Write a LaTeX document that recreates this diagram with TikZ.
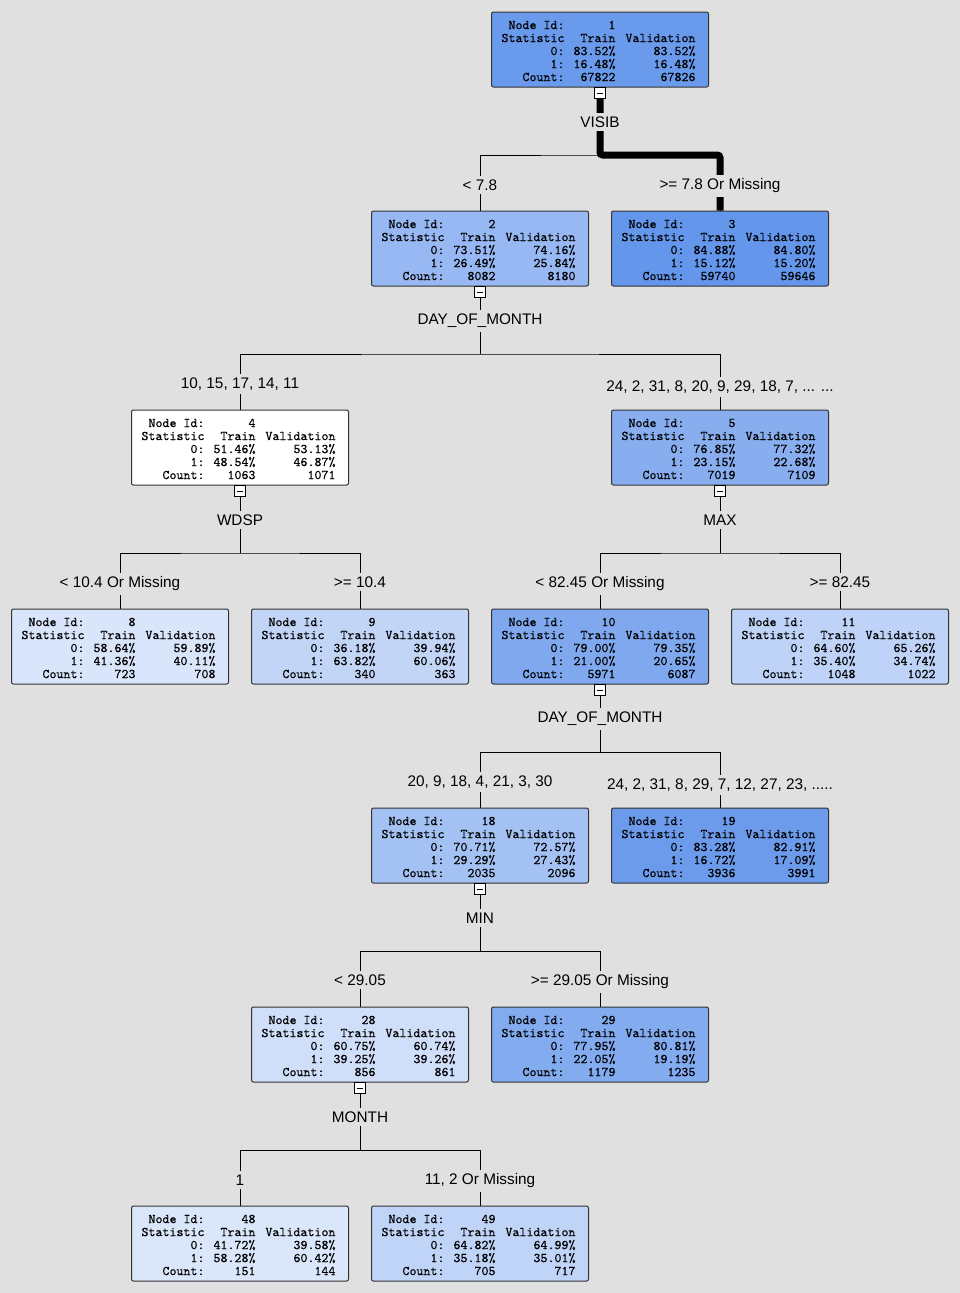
\documentclass[tikz,border=0pt]{standalone}
\usepackage{fontspec}
\setmainfont{Liberation Sans}
\newfontfamily\monof{Latin Modern Mono}[FakeBold=0.4]
\pgfdeclarelayer{back}
\pgfdeclarelayer{lines}
\pgfsetlayers{back,lines,main}
\definecolor{bg}{RGB}{224,224,224}
\definecolor{cA}{RGB}{106,154,236}
\definecolor{cB}{RGB}{151,184,242}
\definecolor{cC}{RGB}{100,150,235}
\definecolor{cD}{RGB}{255,255,255}
\definecolor{cE}{RGB}{136,174,240}
\definecolor{cH}{RGB}{217,229,250}
\definecolor{cI}{RGB}{194,213,247}
\definecolor{cJ}{RGB}{127,168,238}
\definecolor{cK}{RGB}{190,211,247}
\definecolor{cR}{RGB}{163,193,243}
\definecolor{cS}{RGB}{108,155,236}
\definecolor{cT}{RGB}{207,222,249}
\definecolor{cU}{RGB}{131,171,239}
\definecolor{cV}{RGB}{218,230,250}
\definecolor{cW}{RGB}{192,212,247}
\newcommand{\srow}[3]{\hbox{\makebox[54.75pt][r]{#1}\makebox[38.25pt][r]{#2}\makebox[60pt][r]{#3}\hspace*{9.75pt}}}
\newcommand{\nstat}[7]{\vbox{\baselineskip=9.75pt\lineskiplimit=-20pt
\kern2.25pt\srow{Node Id:}{#1}{}\srow{Statistic}{Train}{Validation}\srow{0:}{#2}{#3}\srow{1:}{#4}{#5}\srow{Count:}{#6}{#7}}}
\tikzset{
  box/.style={draw=black!80, line width=0.75pt, rounded corners=1.5pt, inner sep=0pt,
    minimum width=162.75pt, minimum height=56.25pt,
    font=\monof\fontsize{10pt}{9.75pt}\selectfont},
  lab/.style={fill=bg, inner xsep=1pt, inner ysep=3pt, yshift=-0.75pt, font=\fontsize{11.5pt}{13pt}\selectfont},
  colbox/.style={draw=black, fill=white, minimum size=8.25pt, inner sep=0pt, line width=0.6pt},
  conn/.style={line width=0.75pt, black},
  best/.style={line width=5.25pt, black, rounded corners=2pt}
}
\begin{document}
\begin{tikzpicture}[x=0.75pt,y=-0.75pt]
\useasboundingbox (0,0) rectangle (960,1293);
\begin{pgfonlayer}{back}
\fill[bg] (0,0) rectangle (960,1293);
\end{pgfonlayer}
% boxes
\node[box,fill=cA] (n1) at (600,49.5) {\nstat{1}{83.52\%}{83.52\%}{16.48\%}{16.48\%}{67822}{67826}};
\node[box,fill=cB] (n2) at (480,248.5) {\nstat{2}{73.51\%}{74.16\%}{26.49\%}{25.84\%}{8082}{8180}};
\node[box,fill=cC] (n3) at (720,248.5) {\nstat{3}{84.88\%}{84.80\%}{15.12\%}{15.20\%}{59740}{59646}};
\node[box,fill=cD] (n4) at (240,447.5) {\nstat{4}{51.46\%}{53.13\%}{48.54\%}{46.87\%}{1063}{1071}};
\node[box,fill=cE] (n5) at (720,447.5) {\nstat{5}{76.85\%}{77.32\%}{23.15\%}{22.68\%}{7019}{7109}};
\node[box,fill=cH] (n8) at (120,646.5) {\nstat{8}{58.64\%}{59.89\%}{41.36\%}{40.11\%}{723}{708}};
\node[box,fill=cI] (n9) at (360,646.5) {\nstat{9}{36.18\%}{39.94\%}{63.82\%}{60.06\%}{340}{363}};
\node[box,fill=cJ] (n10) at (600,646.5) {\nstat{10}{79.00\%}{79.35\%}{21.00\%}{20.65\%}{5971}{6087}};
\node[box,fill=cK] (n11) at (840,646.5) {\nstat{11}{64.60\%}{65.26\%}{35.40\%}{34.74\%}{1048}{1022}};
\node[box,fill=cR] (n18) at (480,845.5) {\nstat{18}{70.71\%}{72.57\%}{29.29\%}{27.43\%}{2035}{2096}};
\node[box,fill=cS] (n19) at (720,845.5) {\nstat{19}{83.28\%}{82.91\%}{16.72\%}{17.09\%}{3936}{3991}};
\node[box,fill=cT] (n28) at (360,1044.5) {\nstat{28}{60.75\%}{60.74\%}{39.25\%}{39.26\%}{856}{861}};
\node[box,fill=cU] (n29) at (600,1044.5) {\nstat{29}{77.95\%}{80.81\%}{22.05\%}{19.19\%}{1179}{1235}};
\node[box,fill=cV] (n48) at (240,1243.5) {\nstat{48}{41.72\%}{39.58\%}{58.28\%}{60.42\%}{151}{144}};
\node[box,fill=cW] (n49) at (480,1243.5) {\nstat{49}{64.82\%}{64.99\%}{35.18\%}{35.01\%}{705}{717}};
% collapse boxes
\foreach \n/\x/\y in {c1/600/93, c2/480/292, c4/240/491, c5/720/491, c10/600/690, c18/480/889, c28/360/1088}
  \node[colbox] (\n) at (\x,\y) {\rule{4.5pt}{0.7pt}};
% split variable labels
\node[lab] (s1) at (600,121) {VISIB};
\node[lab] (s2) at (480,320) {DAY\_OF\_MONTH};
\node[lab] (s4) at (240,519) {WDSP};
\node[lab] (s5) at (720,519) {MAX};
\node[lab] (s10) at (600,718) {DAY\_OF\_MONTH};
\node[lab] (s18) at (480,917) {MIN};
\node[lab] (s28) at (360,1116) {MONTH};
% branch labels
\node[lab] (b2) at (480,184) {< 7.8};
\node[lab] (b3) at (720,185) {>= 7.8 Or Missing};
\node[lab] (b4) at (240,383) {10, 15, 17, 14, 11};
\node[lab] (b5) at (720,386) {24, 2, 31, 8, 20, 9, 29, 18, 7, ... ...};
\node[lab] (b8) at (120,583) {< 10.4 Or Missing};
\node[lab] (b9) at (360,581) {>= 10.4};
\node[lab] (b10) at (600,583) {< 82.45 Or Missing};
\node[lab] (b11) at (840,581) {>= 82.45};
\node[lab] (b18) at (480,781) {20, 9, 18, 4, 21, 3, 30};
\node[lab] (b19) at (720,784) {24, 2, 31, 8, 29, 7, 12, 27, 23, .....};
\node[lab] (b28) at (360,979) {< 29.05};
\node[lab] (b29) at (600,981) {>= 29.05 Or Missing};
\node[lab] (b48) at (240,1179) {1};
\node[lab] (b49) at (480,1180) {11, 2 Or Missing};
% bar corners
\coordinate (h1) at (600,155);
\coordinate (h2) at (480,354);
\coordinate (h4) at (240,553);
\coordinate (h5) at (720,553);
\coordinate (h10) at (600,752);
\coordinate (h18) at (480,951);
\coordinate (h28) at (360,1150);
\begin{pgfonlayer}{lines}
\draw[conn] (c1) -- (h1);
\draw[conn] (n2.north) |- (h1) -| (n3.north);
\draw[best] (c1.south) -- (h1) -| (n3.north);
\draw[conn] (c2) -- (h2);
\draw[conn] (n4.north) |- (h2) -| (n5.north);
\draw[conn] (c4) -- (h4);
\draw[conn] (n8.north) |- (h4) -| (n9.north);
\draw[conn] (c5) -- (h5);
\draw[conn] (n10.north) |- (h5) -| (n11.north);
\draw[conn] (c10) -- (h10);
\draw[conn] (n18.north) |- (h10) -| (n19.north);
\draw[conn] (c18) -- (h18);
\draw[conn] (n28.north) |- (h18) -| (n29.north);
\draw[conn] (c28) -- (h28);
\draw[conn] (n48.north) |- (h28) -| (n49.north);
\end{pgfonlayer}
\end{tikzpicture}
\end{document}
